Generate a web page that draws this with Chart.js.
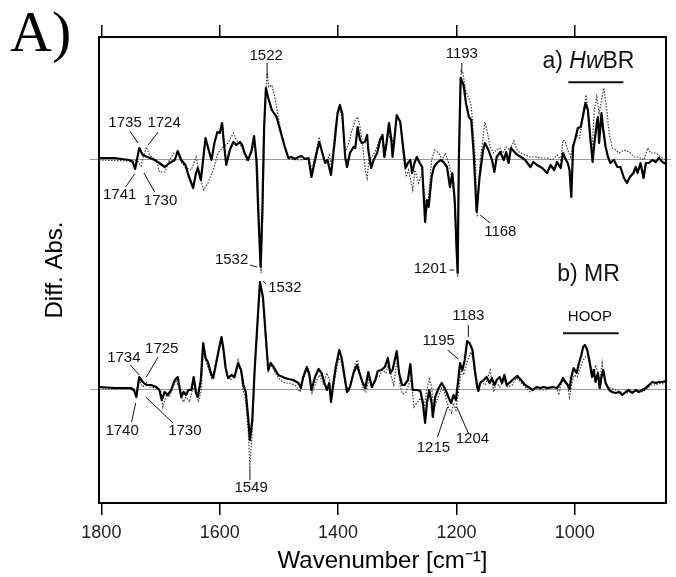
<!DOCTYPE html>
<html>
<head>
<meta charset="utf-8">
<script src="https://cdn.jsdelivr.net/npm/chart.js@4.4.1/dist/chart.umd.min.js"></script>
<style>
html,body{margin:0;padding:0;background:#fff;}
#wrap{position:relative;width:676px;height:577px;}
#panel{position:absolute;left:10px;top:3px;font-family:"Liberation Serif","Times New Roman",serif;font-size:58px;line-height:1;color:#000;}
</style>
</head>
<body>
<div id="wrap"><canvas id="c" width="676" height="577"></canvas><div id="panel">A)</div></div>
<script>
// ---- data (wavenumber in cm-1, difference absorbance in arbitrary units) ----
const wavenumberTicks = [1800, 1600, 1400, 1200, 1000];
const spectrumNames = ['a) HwBR', 'b) MR'];

const hwbrSolid = [[1804,1],[1778,1],[1753,-1],[1747,-3],[1743,-10],[1740,-1],[1736,11],[1730,4],[1722,2],[1710,-1],[1702,-4],[1693,-8],[1685,-4],[1676,-1],[1671,8],[1665,-1],[1658,-6],[1653,-16],[1645,-29],[1640,-14],[1637,-9],[1632,-21],[1630,-11],[1624,21],[1620,12],[1614,-1],[1609,16],[1604,27],[1600,26],[1596,36],[1593,16],[1589,-6],[1583,9],[1577,17],[1572,14],[1566,17],[1562,14],[1558,6],[1552,-1],[1546,9],[1542,23],[1538,-1],[1535,-51],[1531,-108],[1528,-51],[1525,32],[1522,71],[1518,61],[1512,49],[1504,42],[1498,29],[1490,12],[1484,1],[1479,2],[1473,0],[1467,2],[1462,3],[1456,0],[1450,1],[1445,-18],[1439,-1],[1432,17],[1428,9],[1422,-4],[1418,-1],[1412,-16],[1406,16],[1401,46],[1397,54],[1393,46],[1388,2],[1385,-8],[1380,6],[1374,12],[1371,11],[1367,32],[1363,19],[1360,16],[1355,17],[1351,24],[1349,9],[1344,-9],[1340,-1],[1334,6],[1329,19],[1325,24],[1322,2],[1318,17],[1314,36],[1310,19],[1308,2],[1305,19],[1301,44],[1295,37],[1289,6],[1286,-9],[1282,-4],[1278,-1],[1275,-14],[1271,-4],[1267,2],[1263,-3],[1258,-8],[1253,-63],[1250,-41],[1247,-48],[1242,-18],[1238,-8],[1233,-4],[1227,-1],[1222,-3],[1216,-8],[1211,-28],[1207,-14],[1203,-41],[1200,-88],[1198,-114],[1196,-1],[1193,81],[1188,74],[1184,56],[1179,42],[1175,39],[1171,6],[1166,-53],[1161,-18],[1155,9],[1152,16],[1146,9],[1140,-1],[1136,-13],[1132,2],[1126,7],[1120,-1],[1116,7],[1112,-4],[1108,11],[1102,7],[1097,4],[1091,2],[1084,-1],[1075,-8],[1070,-3],[1064,-6],[1055,-9],[1047,-14],[1041,-6],[1035,-11],[1030,-3],[1024,-9],[1020,6],[1015,-1],[1012,-4],[1009,-11],[1006,-38],[1003,12],[999,21],[995,31],[990,32],[986,44],[982,56],[978,49],[974,22],[970,-3],[967,16],[963,36],[961,42],[959,16],[955,46],[952,29],[948,12],[944,2],[940,-4],[934,-1],[928,-8],[923,-8],[917,-19],[912,-24],[907,-18],[901,-14],[897,-8],[894,-14],[889,-4],[884,-19],[880,-4],[875,-4],[869,-1],[863,-3],[858,1],[852,-3],[846,-5]];

const hwbrDotted = [[1804,-1],[1750,-2],[1740,-1],[1733,-7],[1724,12],[1719,4],[1707,-1],[1702,-13],[1693,-13],[1685,-1],[1677,6],[1672,7],[1665,-3],[1657,-9],[1648,-11],[1640,2],[1634,-16],[1627,-31],[1620,-24],[1611,-11],[1603,6],[1594,12],[1586,16],[1577,26],[1572,19],[1563,12],[1555,-1],[1546,6],[1541,19],[1536,-8],[1533,-68],[1530,-114],[1527,-51],[1524,49],[1520,86],[1517,72],[1512,74],[1507,62],[1498,32],[1490,12],[1484,0],[1467,-1],[1450,0],[1444,-11],[1439,2],[1432,22],[1425,2],[1419,-3],[1415,4],[1411,-8],[1405,32],[1401,42],[1397,49],[1393,41],[1388,6],[1382,16],[1378,26],[1371,39],[1367,42],[1363,32],[1359,16],[1354,-11],[1351,-19],[1348,-1],[1343,2],[1336,9],[1331,19],[1325,24],[1320,6],[1315,26],[1310,16],[1305,22],[1301,42],[1295,37],[1289,-1],[1285,-18],[1281,-11],[1274,-31],[1270,-11],[1264,-24],[1258,-14],[1253,-41],[1248,-44],[1242,-1],[1237,9],[1230,6],[1224,-1],[1219,6],[1213,-4],[1207,-21],[1202,-51],[1198,-118],[1196,-1],[1192,88],[1189,86],[1185,69],[1176,56],[1174,46],[1168,-1],[1165,-58],[1160,-1],[1155,22],[1152,37],[1148,27],[1143,12],[1137,6],[1133,9],[1127,11],[1122,6],[1116,12],[1110,9],[1103,18],[1098,9],[1092,6],[1084,4],[1075,2],[1067,2],[1055,1],[1047,1],[1038,-1],[1030,4],[1024,-1],[1020,19],[1016,17],[1012,9],[1007,2],[1003,16],[997,24],[992,21],[986,46],[981,64],[976,39],[974,16],[971,9],[967,49],[963,62],[959,46],[955,59],[951,71],[946,49],[942,26],[937,11],[931,9],[925,6],[917,9],[908,7],[900,2],[892,2],[883,-1],[877,11],[872,6],[863,6],[855,2],[846,-1]];

const mrSolid = [[1804,2],[1778,1],[1750,1],[1745,-1],[1741,-8],[1736,12],[1730,7],[1724,4],[1716,4],[1707,2],[1702,-1],[1698,-11],[1693,-3],[1688,-6],[1682,-1],[1676,9],[1671,12],[1665,-8],[1661,-3],[1657,-6],[1653,-1],[1648,-1],[1644,12],[1640,-4],[1637,-8],[1632,9],[1628,46],[1624,31],[1620,27],[1615,16],[1611,11],[1606,26],[1600,44],[1597,52],[1594,41],[1590,21],[1586,11],[1580,14],[1575,12],[1569,26],[1564,19],[1560,4],[1556,-3],[1552,-28],[1549,-51],[1545,-31],[1541,19],[1536,69],[1532,107],[1527,92],[1523,59],[1518,19],[1514,26],[1508,21],[1501,14],[1490,11],[1484,10],[1476,9],[1467,6],[1463,1],[1459,12],[1453,22],[1449,16],[1445,-1],[1439,12],[1433,20],[1428,16],[1423,6],[1419,-1],[1415,6],[1412,-13],[1408,6],[1404,22],[1398,39],[1394,31],[1389,12],[1385,-3],[1380,2],[1374,16],[1368,24],[1364,16],[1359,7],[1354,1],[1349,17],[1343,2],[1337,9],[1333,18],[1327,19],[1321,22],[1316,31],[1312,16],[1308,19],[1305,27],[1301,38],[1297,16],[1292,4],[1288,4],[1282,9],[1278,25],[1274,-1],[1267,-1],[1261,-2],[1257,-13],[1253,-34],[1250,-14],[1246,-1],[1242,-14],[1240,-28],[1236,-8],[1230,1],[1225,6],[1221,2],[1217,-3],[1213,-9],[1209,-14],[1205,-6],[1201,-11],[1197,9],[1194,26],[1190,19],[1186,29],[1182,48],[1178,46],[1173,39],[1169,19],[1165,2],[1163,-2],[1160,6],[1154,9],[1149,12],[1144,6],[1140,11],[1136,4],[1132,9],[1127,12],[1123,6],[1119,14],[1115,4],[1109,7],[1102,11],[1097,13],[1091,9],[1084,4],[1076,1],[1071,-1],[1065,2],[1058,1],[1053,2],[1046,1],[1038,2],[1030,1],[1024,6],[1020,11],[1016,7],[1012,4],[1009,0],[1006,12],[1002,21],[997,16],[993,26],[989,34],[986,42],[983,44],[979,39],[975,27],[971,12],[968,19],[965,7],[961,16],[958,1],[955,12],[952,19],[948,6],[942,-1],[937,-3],[931,-4],[925,-3],[920,-6],[914,-3],[909,-1],[903,-4],[897,-1],[892,-3],[886,-1],[880,1],[875,4],[869,7],[863,6],[858,7],[852,7],[846,8]];

const mrDotted = [[1804,0],[1750,0],[1741,-4],[1736,9],[1730,2],[1724,7],[1719,2],[1707,1],[1699,-3],[1696,-18],[1690,-6],[1685,-8],[1679,2],[1674,9],[1668,-1],[1662,-13],[1657,-8],[1651,-13],[1645,2],[1640,-4],[1636,-13],[1631,-1],[1628,39],[1624,29],[1620,22],[1614,11],[1609,19],[1602,39],[1597,47],[1593,36],[1589,16],[1583,9],[1575,12],[1569,29],[1564,17],[1561,-1],[1557,-8],[1552,-41],[1549,-78],[1545,-41],[1541,19],[1536,66],[1532,104],[1527,89],[1523,56],[1518,16],[1514,26],[1507,17],[1498,9],[1490,6],[1484,6],[1473,4],[1464,-3],[1459,9],[1453,19],[1449,12],[1444,-4],[1436,9],[1431,14],[1425,4],[1419,16],[1415,9],[1411,-9],[1405,12],[1399,31],[1394,26],[1388,6],[1382,-3],[1377,9],[1371,26],[1367,29],[1363,16],[1357,-1],[1353,-3],[1347,12],[1343,1],[1336,12],[1331,12],[1325,19],[1319,16],[1315,26],[1310,12],[1306,4],[1302,22],[1299,29],[1295,2],[1291,-5],[1285,-3],[1281,4],[1276,11],[1272,-18],[1267,-14],[1261,-9],[1255,-19],[1250,-1],[1246,10],[1242,2],[1238,-21],[1233,-11],[1225,1],[1220,-4],[1214,-18],[1208,-24],[1205,-14],[1201,-21],[1196,-1],[1192,19],[1188,14],[1182,27],[1176,37],[1172,31],[1168,12],[1162,1],[1159,7],[1151,4],[1143,19],[1137,-3],[1133,7],[1127,2],[1120,9],[1114,2],[1106,4],[1099,11],[1092,7],[1084,2],[1075,-3],[1067,1],[1058,-1],[1050,-1],[1041,1],[1031,2],[1027,-6],[1024,4],[1020,9],[1016,6],[1012,4],[1009,-8],[1005,6],[1001,14],[996,12],[992,19],[988,26],[984,31],[979,34],[975,27],[971,19],[968,12],[965,24],[961,16],[958,7],[954,26],[951,12],[945,2],[940,1],[931,-1],[923,-3],[914,-4],[906,-3],[897,-2],[889,-3],[880,-1],[872,4],[863,4],[855,6],[846,4]];

// band labels: [text, label wavenumber, label value, leader from wn, from value, to wn, to value]
const bandLabelsA = [
  ['1735',1760,36.5,1752,28,1738,16],
  ['1724',1694,36.5,1704,27,1721,14],
  ['1741',1769,-35.5,1744,-15,1759,-28],
  ['1730',1700,-42,1728,-14,1710,-33],
  ['1532',1580,-100.5,1549,-106,1537,-108],
  ['1522',1521.5,103,1520,96,1520,82],
  ['1193',1191,105,1191,96,1191,86],
  ['1168',1126,-72.5,1160,-56,1143,-64],
  ['1201',1244,-110,1212,-111,1204,-111]
];
const bandLabelsB = [
  ['1532',1490,101.5,1527,108,1522,105],
  ['1734',1762,31.5,1751,24,1736,14],
  ['1725',1698,40,1704,32,1724,12],
  ['1740',1765,-42,1742,-14,1749,-33],
  ['1730',1659,-42,1725,-8,1679,-34],
  ['1549',1547,-98.5,1549,-78,1549,-91],
  ['1183',1180,73,1180,64,1180,52],
  ['1195',1230,48,1215,39,1197,30],
  ['1215',1239,-59,1232,-48,1215,-18],
  ['1204',1173,-50,1180,-44,1199.5,-18]
];
// HOOP region markers [from wn, to wn, value]
const hoopA = [1011, 918, 76.7];
const hoopB = [1020, 926, 55.7];

// ---- layout constants ----
const OFFSET_A = 230;           // vertical offset of spectrum a)
const Y_MIN = -114, Y_MAX = 352;
const X_MIN = 846, X_MAX = 1804;
const FONT = '"Liberation Sans", Arial, Helvetica, sans-serif';

Chart.defaults.font.family = FONT;

const toXY = (arr, off) => arr.map(p => ({x: p[0], y: p[1] + off}));

const annotate = {
  id: 'annotate',
  afterDatasetsDraw(chart) {
    const {ctx, scales: {x, y}} = chart;
    ctx.save();
    ctx.fillStyle = '#111';
    ctx.strokeStyle = '#111';
    ctx.lineWidth = 1;
    ctx.textAlign = 'center';
    ctx.textBaseline = 'middle';
    ctx.font = '15px ' + FONT;
    const draw = (list, off) => {
      list.forEach(l => {
        ctx.fillText(l[0], x.getPixelForValue(l[1]), y.getPixelForValue(l[2] + off));
        ctx.beginPath();
        ctx.moveTo(x.getPixelForValue(l[3]), y.getPixelForValue(l[4] + off));
        ctx.lineTo(x.getPixelForValue(l[5]), y.getPixelForValue(l[6] + off));
        ctx.stroke();
      });
    };
    draw(bandLabelsA, OFFSET_A);
    draw(bandLabelsB, 0);
    // HOOP bars
    ctx.lineWidth = 2;
    [[hoopA, OFFSET_A], [hoopB, 0]].forEach(([h, off]) => {
      ctx.beginPath();
      ctx.moveTo(x.getPixelForValue(h[0]), y.getPixelForValue(h[2] + off));
      ctx.lineTo(x.getPixelForValue(h[1]), y.getPixelForValue(h[2] + off));
      ctx.stroke();
    });
    ctx.fillText('HOOP', x.getPixelForValue(974.5), y.getPixelForValue(72.5));
    // spectrum names
    const nameFont = 23;
    const drawName = (parts, cx, cy) => {
      let total = 0;
      parts.forEach(p => { ctx.font = (p[1] ? 'italic ' : '') + nameFont + 'px ' + FONT; p.w = ctx.measureText(p[0]).width; total += p.w; });
      let px = cx - total / 2;
      ctx.textAlign = 'left';
      parts.forEach(p => { ctx.font = (p[1] ? 'italic ' : '') + nameFont + 'px ' + FONT; ctx.fillText(p[0], px, cy); px += p.w; });
      ctx.textAlign = 'center';
    };
    drawName([['a) ', false], ['Hw', true], ['BR', false]], x.getPixelForValue(977), y.getPixelForValue(97 + OFFSET_A));
    drawName([['b) MR', false]], x.getPixelForValue(977), y.getPixelForValue(114));
    ctx.restore();
  }
};

const setTicks = vals => s => { s.ticks = vals.map(v => ({value: v})); };

new Chart(document.getElementById('c'), {
  type: 'line',
  data: {
    datasets: [
      {label: spectrumNames[0] + ' solid', data: toXY(hwbrSolid, OFFSET_A), borderColor: '#000', borderWidth: 2.2, pointRadius: 0, tension: 0, order: 0, borderJoinStyle: 'round'},
      {label: spectrumNames[1] + ' solid', data: toXY(mrSolid, 0), borderColor: '#000', borderWidth: 2.2, pointRadius: 0, tension: 0, order: 0, borderJoinStyle: 'round'},
      {label: spectrumNames[0] + ' dotted', data: toXY(hwbrDotted, OFFSET_A), borderColor: '#3a3a3a', borderWidth: 1.2, borderDash: [1.5, 1.5], pointRadius: 0, tension: 0, order: 1},
      {label: spectrumNames[1] + ' dotted', data: toXY(mrDotted, 0), borderColor: '#3a3a3a', borderWidth: 1.2, borderDash: [1.5, 1.5], pointRadius: 0, tension: 0, order: 1}
    ]
  },
  options: {
    responsive: false,
    animation: false,
    layout: {padding: 0},
    plugins: {legend: {display: false}, tooltip: {enabled: false}},
    scales: {
      x: {
        type: 'linear', position: 'bottom', reverse: true, min: X_MIN, max: X_MAX,
        afterBuildTicks: setTicks(wavenumberTicks),
        afterFit: s => { s.height = 74; },
        ticks: {font: {size: 18}, color: '#222', padding: 7, maxRotation: 0, autoSkip: false, callback: v => String(v)},
        grid: {drawOnChartArea: false, drawTicks: true, tickLength: 12, color: '#000', lineWidth: 1.5},
        border: {display: true, color: '#000', width: 2},
        title: {display: true, text: 'Wavenumber [cm\u207B\u00B9]', font: {size: 24}, color: '#000', padding: {top: 0, bottom: 1}}
      },
      x2: {
        type: 'linear', position: 'top', reverse: true, min: X_MIN, max: X_MAX,
        afterBuildTicks: setTicks(wavenumberTicks),
        afterFit: s => { s.height = 37; },
        ticks: {display: false},
        grid: {drawOnChartArea: false, drawTicks: true, tickLength: 12, color: '#000', lineWidth: 1.5},
        border: {display: true, color: '#000', width: 2}
      },
      y: {
        type: 'linear', position: 'left', min: Y_MIN, max: Y_MAX,
        afterBuildTicks: setTicks([0, OFFSET_A]),
        afterFit: s => { s.width = 99; },
        ticks: {display: false},
        grid: {color: '#9a9a9a', lineWidth: 1, drawTicks: true, tickLength: 9},
        border: {display: true, color: '#000', width: 2},
        title: {display: true, text: 'Diff. Abs.', font: {size: 24}, color: '#000', padding: {top: 41}}
      },
      y2: {
        type: 'linear', position: 'right', min: Y_MIN, max: Y_MAX,
        afterBuildTicks: setTicks([0, OFFSET_A]),
        afterFit: s => { s.width = 10; },
        ticks: {display: false},
        grid: {drawOnChartArea: false, color: '#9a9a9a', lineWidth: 1, drawTicks: true, tickLength: 5},
        border: {display: true, color: '#000', width: 2}
      }
    }
  },
  plugins: [annotate]
});
</script>
</body>
</html>
